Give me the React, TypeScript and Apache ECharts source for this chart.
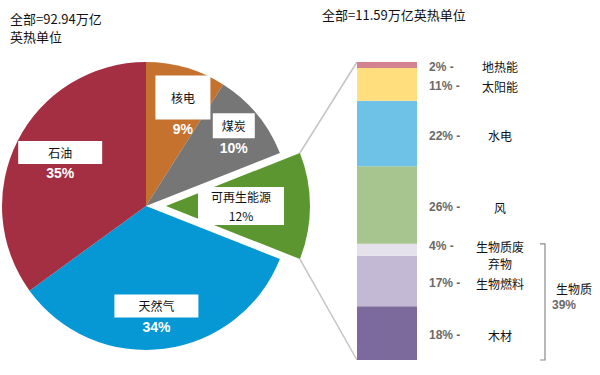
import React, { useEffect, useRef } from 'react';
import * as echarts from 'echarts';

// ---- data ----
const mainTitleLines = ['全部=92.94万亿', '英热单位'];
const renewTitle = '全部=11.59万亿英热单位';

const pieNames = ['核电', '煤炭', '可再生能源', '天然气', '石油'];
const pieValues = [9, 10, 12, 34, 35];
const explodedName = '可再生能源';

const renewNames = ['木材', '生物燃料', '生物质废弃物', '风', '水电', '太阳能', '地热能'];
const renewValues = [18, 17, 4, 26, 22, 11, 2];
const biomassName = '生物质';
const biomassValue = 39;

// ---- styles ----
const pieColors = ['#C5722F', '#767676', '#5C9631', '#0598D5', '#A42F42'];
const renewColors = ['#7B6A9B', '#C3B9D4', '#E5E1EC', '#A7C58F', '#6EC2E8', '#FFDF7D', '#D4828F'];
const renewDisplay: Record<string, string> = { '生物质废弃物': '生物质废\n弃物' };

const CJK = '"Noto Sans CJK SC", sans-serif';
const LAT = '"Liberation Sans", Arial, sans-serif';

const PIE_CX = 146, PIE_CY = 206, PIE_R = 144, PIE_OFF = 20;
const GRID_L = 357, GRID_T = 62, GRID_W = 60, GRID_H = 298;

// per-slice label boxes: [boxW, boxH, offsetX, offsetY]
const pieLabelBox: Record<string, number[]> = {
  '核电': [55, 44, 16, -27],
  '煤炭': [42, 25, 30, -23],
  '天然气': [84, 23, 1, 35],
  '石油': [84, 23, -19, -10],
};

export default function App() {
  const ref = useRef<HTMLDivElement>(null);
  useEffect(() => {
    if (!ref.current) return;
    const chart = echarts.init(ref.current, null, { renderer: 'svg' });

    const pieData = pieNames.map((n, i) => {
      let label: any;
      if (n === explodedName) {
        label = {
          formatter: `{n|${n}}\n{n|${pieValues[i]}%}`,
          offset: [18, 2],
          rich: {
            n: { backgroundColor: '#fff', width: 86, height: 19, align: 'center', fontFamily: CJK, fontSize: 12, color: '#111' },
          },
        };
      } else {
        const b = pieLabelBox[n];
        label = {
          formatter: `{n|${n}}\n{p|${pieValues[i]}%}`,
          offset: [b[2], b[3]],
          rich: {
            n: { backgroundColor: '#fff', width: b[0], height: b[1], align: 'center', verticalAlign: 'middle', fontFamily: CJK, fontSize: 12, color: '#111' },
            p: { color: '#fff', fontFamily: LAT, fontWeight: 'bold', fontSize: 14, lineHeight: 19, align: 'center' },
          },
        };
      }
      return {
        name: n,
        value: pieValues[i],
        selected: n === explodedName,
        itemStyle: { color: pieColors[i] },
        label,
      };
    });

    const barSeries = renewNames.map((n, i) => {
      const disp = renewDisplay[n] || n;
      const lines = disp.split('\n');
      const multi = lines.length > 1;
      const fmt = lines
        .map((ln, k) => (k === 0 ? `{p|${renewValues[i]}% -}{n|${ln}}` : `{e| }{n|${ln}}`))
        .join('\n');
      const lh = multi ? 17 : 15;
      return {
        type: 'bar',
        name: n,
        stack: 'renew',
        barWidth: '100%',
        data: [renewValues[i]],
        itemStyle: { color: renewColors[i] },
        label: {
          show: true,
          position: 'right',
          distance: 12,
          offset: multi ? [0, 5] : [0, 2],
          formatter: fmt,
          rich: {
            p: { width: 36, align: 'left', color: '#6a6a6a', fontFamily: LAT, fontWeight: 'bold', fontSize: 12, lineHeight: lh },
            e: { width: 36, lineHeight: lh },
            n: { width: 70, align: 'center', color: '#111', fontFamily: CJK, fontSize: 12, lineHeight: lh },
          },
        },
        emphasis: { disabled: true },
      };
    });

    chart.setOption({
      animation: false,
      title: [
        { text: mainTitleLines.join('\n'), left: 5, top: 4, textStyle: { fontFamily: CJK, fontSize: 13, fontWeight: 'normal', color: '#111', lineHeight: 18 } },
        { text: renewTitle, left: 317, top: 3, textStyle: { fontFamily: CJK, fontSize: 13, fontWeight: 'normal', color: '#111' } },
      ],
      grid: { left: GRID_L, top: GRID_T, width: GRID_W, height: GRID_H, containLabel: false },
      xAxis: { type: 'category', data: ['可再生能源'], show: false },
      yAxis: { type: 'value', min: 0, max: 100, show: false },
      series: [
        {
          type: 'pie',
          center: [PIE_CX, PIE_CY],
          radius: PIE_R,
          startAngle: 90,
          clockwise: true,
          selectedMode: 'single',
          selectedOffset: PIE_OFF,
          label: { show: true, position: 'inside' },
          labelLine: { show: false },
          emphasis: { disabled: true },
          data: pieData,
        },
        ...barSeries,
      ],
    });

    // connector lines from exploded slice to the bar, and biomass bracket
    const total = pieValues.reduce((a, b) => a + b, 0);
    const idx = pieNames.indexOf(explodedName);
    const before = pieValues.slice(0, idx).reduce((a, b) => a + b, 0);
    const a0 = (before / total) * Math.PI * 2;
    const a1 = ((before + pieValues[idx]) / total) * Math.PI * 2;
    const amid = (a0 + a1) / 2;
    const ecx = PIE_CX + PIE_OFF * Math.sin(amid);
    const ecy = PIE_CY - PIE_OFF * Math.cos(amid);
    const p0 = [ecx + PIE_R * Math.sin(a0), ecy - PIE_R * Math.cos(a0)];
    const p1 = [ecx + PIE_R * Math.sin(a1), ecy - PIE_R * Math.cos(a1)];
    const yTop = chart.convertToPixel({ yAxisIndex: 0 }, 100) as number;
    const yBot = chart.convertToPixel({ yAxisIndex: 0 }, 0) as number;
    const yBio = chart.convertToPixel({ yAxisIndex: 0 }, biomassValue) as number;
    const bx = 545;

    chart.setOption({
      graphic: [
        { type: 'line', shape: { x1: p0[0], y1: p0[1], x2: GRID_L, y2: yTop }, style: { stroke: '#c4c4c4', lineWidth: 1.5 }, z: -1 },
        { type: 'line', shape: { x1: p1[0], y1: p1[1], x2: GRID_L, y2: yBot }, style: { stroke: '#c4c4c4', lineWidth: 1.5 }, z: -1 },
        { type: 'polyline', shape: { points: [[bx - 5, yBio], [bx, yBio], [bx, yBot], [bx - 5, yBot]] }, style: { stroke: '#8a8a8a', lineWidth: 1.2, fill: null } },
        { type: 'text', x: 556, y: (yBio + yBot) / 2 - 19, style: { text: biomassName, font: `12px ${CJK}`, fill: '#111' } },
        { type: 'text', x: 552, y: (yBio + yBot) / 2 - 3, style: { text: `${biomassValue}%`, font: `bold 12px ${LAT}`, fill: '#6a6a6a' } },
      ],
    });

    return () => chart.dispose();
  }, []);
  return <div ref={ref} style={{ position: 'absolute', left: 0, top: 0, width: 600, height: 375 }} />;
}
